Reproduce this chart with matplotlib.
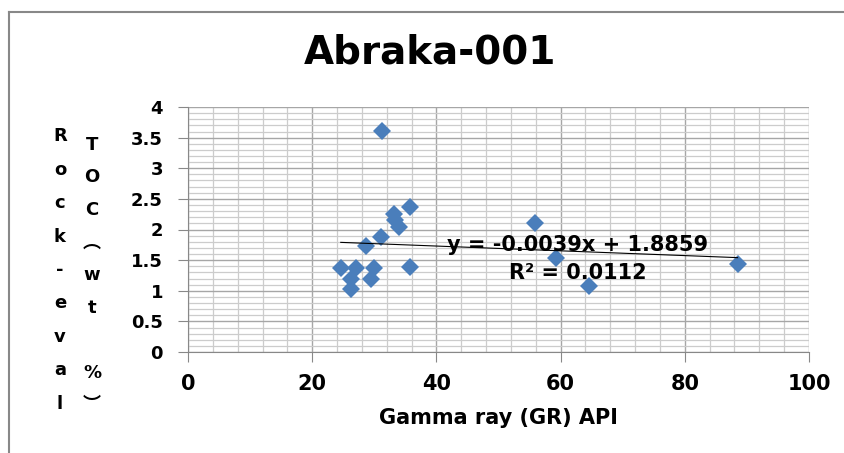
# -*- coding: utf-8 -*-
# Nuage de points TOC Rock-eval en fonction du Gamma ray, puits Abraka-001
import numpy as np
import matplotlib.pyplot as plt
from matplotlib.ticker import MultipleLocator
from matplotlib.lines import Line2D

################################################################################
# Données
################################################################################
# Gamma ray (API)
gr = [31.3, 35.7, 33.2, 33.4, 33.9, 31.0, 28.7, 24.6, 27.1, 30.0,
      26.2, 29.5, 26.2, 35.7, 55.9, 59.3, 64.5, 88.5]
# TOC (wt%)
toc = [3.61, 2.37, 2.25, 2.15, 2.04, 1.88, 1.73, 1.37, 1.37, 1.37,
       1.20, 1.20, 1.03, 1.39, 2.10, 1.53, 1.07, 1.43]
# droite de tendance (Excel)
pente = -0.0039
ordonnee = 1.8859
r2 = 0.0112

# graduations
xticks = [0, 20, 40, 60, 80, 100]
xticklabels = ["0", "20", "40", "60", "80", "100"]
yticks = [0, 0.5, 1, 1.5, 2, 2.5, 3, 3.5, 4]
yticklabels = ["0", "0.5", "1", "1.5", "2", "2.5", "3", "3.5", "4"]

titre = "Abraka-001"
xlabel = "Gamma ray (GR) API"
ylabel_col1 = "Rock-eval"
ylabel_col2 = ["T", "O", "C", "\ufe35", "w", "t", " ", "%", "\ufe36"]

bleu = "#4A7EBB"
fonte = ["DejaVu Sans", "Noto Sans CJK SC"]
plt.rcParams['font.family'] = fonte

################################################################################
# Figure
################################################################################
fig = plt.figure(figsize=(8.45, 4.53), dpi=100)
ax = fig.add_axes([188/845, 1-352/453, (809-188)/845, (352-107)/453])

# grille
ax.set_xlim(0, 100)
ax.set_ylim(0, 4)
ax.set_xticks(xticks, xticklabels)
ax.set_yticks(yticks, yticklabels)
ax.xaxis.set_minor_locator(MultipleLocator(4))
ax.yaxis.set_minor_locator(MultipleLocator(0.1))
ax.grid(which='major', color='#a6a6a6', linewidth=1.0, zorder=0)
ax.grid(which='minor', color='#cccccc', linewidth=0.9, zorder=0)
ax.set_axisbelow(True)

# points
ax.plot(gr, toc, linestyle='none', marker='D', markersize=9.5,
        color=bleu, markeredgewidth=0, zorder=3)

# droite de tendance sur l'étendue des données
xt = np.array([min(gr), max(gr)])
ax.plot(xt, pente*xt + ordonnee, color='black', linewidth=0.8, zorder=4)
ax.text(62.8, 1.75, "y = %.4fx + %.4f" % (pente, ordonnee), ha='center', va='center',
        fontsize=15, fontweight='bold', zorder=5)
ax.text(62.8, 1.29, "R² = %.4f" % r2, ha='center', va='center',
        fontsize=15, fontweight='bold', zorder=5)

# axes
for s in ['top', 'right']:
    ax.spines[s].set_visible(False)
for s in ['left', 'bottom']:
    ax.spines[s].set_color('#888888')
ax.tick_params(which='major', length=7, color='#888888')
ax.tick_params(which='minor', length=0)
ax.tick_params(axis='y', labelsize=13, pad=11)
ax.tick_params(axis='x', labelsize=15, pad=9)
for lab in ax.get_xticklabels() + ax.get_yticklabels():
    lab.set_fontweight('bold')

ax.set_xlabel(xlabel, fontsize=15, fontweight='bold', labelpad=10)

# titre
fig.text(430/845, 1-53/453, titre, ha='center', va='center',
         fontsize=28, fontweight='bold')

# titre de l'axe y en texte vertical empilé (deux colonnes)
fig.text(60/845, 1-270/453, "\n".join(ylabel_col1), ha='center', va='center',
         fontsize=13, fontweight='bold', linespacing=2.1)
fig.text(92/845, 1-275/453, "\n".join(ylabel_col2), ha='center', va='center',
         fontsize=13, fontweight='bold', linespacing=2.04)

# cadre du graphique
fig.add_artist(Line2D([9/845, 9/845], [0, 1-12/453], color='#888888', linewidth=1.5))
fig.add_artist(Line2D([9/845, 1], [1-12/453, 1-12/453], color='#888888', linewidth=1.5))

plt.savefig('out.png', dpi=100)
